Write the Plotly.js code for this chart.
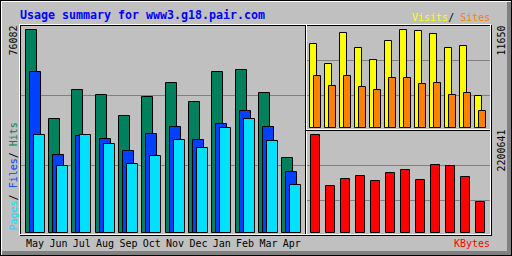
<!DOCTYPE html>
<html><head><meta charset="utf-8">
<script src="https://cdn.plot.ly/plotly-3.0.1.min.js"></script>
<style>html,body{margin:0;padding:0;background:#C0C0C0;overflow:hidden}#chart{width:512px;height:256px}</style>
</head><body><div id="chart"></div>
<script>
// ---- data ----
const months = ["May","Jun","Jul","Aug","Sep","Oct","Nov","Dec","Jan","Feb","Mar","Apr"];
const hits   = [76082,42600,53500,51600,43700,50900,56100,49000,60200,61000,52500,28000];
const files  = [60300,29100,36200,35200,30600,37100,39700,34700,40700,45600,39700,22750];
const pages  = [36700,25000,36700,33350,25850,28750,34750,31750,39350,42600,34350,17900];
const visits = [9950,7570,11260,9480,8050,10310,11650,11500,11140,9480,9710,3770];
const sites  = [6150,4960,6150,4840,4480,5910,5910,5200,5310,3890,4130,1990];
const kbytes = [2200641,1055400,1212600,1280000,1167700,1347300,1414700,1190100,1527000,1504500,1257500,696100];

// ---- pixel helpers ----
const W = 512, H = 256;
const fx = p => p / W;
const fy = p => 1 - p / H;
const idx = months.map((m, i) => i);
const xr = (a, b, c0, u) => [(a - c0) / u, (b - c0) / u];
const yr = (bot, top, base, per) => [(base - bot) * per, (base - top) * per];

const mainU = 70 / 3, mainC = 35.1;
const sideU = 15, sideC = 315.1;
const maxMain = Math.max(...hits, ...files, ...pages);
const maxVS = Math.max(...visits, ...sites);
const maxK = Math.max(...kbytes);
const perMain = maxMain / 203, perVS = maxVS / 98, perK = maxK / 98;

const C = {hits:'#00805C', files:'#0040FF', pages:'#00E0FF', visits:'#FFFF00', sites:'#FF8000', kb:'#FF0000'};

function bar(y, xa, ya, color, offPx, wPx, unit) {
  return {type:'bar', x: idx, y: y, xaxis: xa, yaxis: ya,
    offset: (offPx - wPx / 2) / unit, width: wPx / unit,
    marker: {color: color, line: {color: '#000000', width: 1}},
    hoverinfo: 'skip', showlegend: false};
}

const traces = [
  bar(hits,  'x', 'y', C.hits,  -4, 11, mainU),
  bar(files, 'x', 'y', C.files,  0, 11, mainU),
  bar(pages, 'x', 'y', C.pages,  4, 11, mainU),
  bar(visits,'x2','y2', C.visits,-2, 7, sideU),
  bar(sites, 'x2','y2', C.sites,  2, 7, sideU),
  bar(kbytes,'x3','y3', C.kb,     0, 9, sideU)
];

// ---- decoration (pixel rectangles) ----
const shapes = [];
function R(x0, y0, x1, y1, color, layer) {
  shapes.push({type:'rect', xref:'paper', yref:'paper', x0: fx(x0), x1: fx(x1), y0: fy(y1), y1: fy(y0),
    fillcolor: color, line: {width: 0}, layer: layer || 'above'});
}
const BLK = '#000000', WHT = '#FFFFFF', DK = '#808080';
// grid lines
R(21, 95, 305, 96, DK, 'below'); R(21, 165, 305, 166, DK, 'below');
R(307, 60, 490, 61, DK, 'below'); R(307, 95, 490, 96, DK, 'below');
R(307, 165, 490, 166, DK, 'below'); R(307, 200, 490, 201, DK, 'below');
// outer bevel
R(1, 1, 511, 2, WHT); R(1, 1, 2, 255, WHT);
R(507, 2, 511, 255, DK); R(2, 251, 511, 255, DK);
R(0, 0, 512, 1, BLK); R(0, 255, 512, 256, BLK); R(0, 0, 1, 256, BLK); R(511, 0, 512, 256, BLK);
// graph area groove
R(20, 25, 492, 26, BLK); R(20, 25, 21, 236, BLK); R(20, 235, 492, 236, BLK); R(491, 25, 492, 236, BLK);
R(19, 24, 491, 25, WHT); R(19, 24, 20, 235, WHT); R(19, 234, 491, 235, WHT); R(490, 24, 491, 235, WHT);
// section dividers
R(305, 25, 306, 234, BLK); R(306, 25, 307, 234, WHT);
R(306, 129, 490, 130, WHT); R(306, 130, 490, 131, BLK);

// ---- texts ----
const MONO = 'DejaVu Sans Mono';
function T(text, x, y, xanchor, color, size, angle) {
  return {text: text, xref:'paper', yref:'paper', x: fx(x), y: fy(y), xanchor: xanchor, yanchor:'middle',
    showarrow:false, borderpad:0, borderwidth:0, textangle: angle || 0,
    font: {family: MONO, size: size || 10, color: color || '#000000'}};
}
const annotations = [
  T('<b>Usage summary for www3.g18.pair.com</b>', 20, 15, 'left', '#0000FF', 11.63),
  T('<span style="color:' + C.visits + '">Visits</span>/ <span style="color:' + C.sites + '">Sites</span>', 490, 17, 'right'),
  T('<span style="color:' + C.kb + '">KBytes</span>', 490, 243.5, 'right'),
  T('<span style="color:' + C.pages + '">Pages</span>/ <span style="color:' + C.files + '">Files</span>/ <span style="color:' + C.hits + '">Hits</span>', 12.5, 177, 'center', '#000000', 10, -90),
  T(String(maxMain), 12.5, 41, 'center', '#000000', 10, -90),
  T(String(maxVS), 500.5, 41, 'center', '#000000', 10, -90),
  T(String(maxK), 500.5, 151, 'center', '#000000', 10, -90)
];

const hidden = {showgrid:false, zeroline:false, showline:false, showticklabels:false, ticks:'', fixedrange:true};
const layout = {
  width: W, height: H, margin: {l:0, r:0, t:0, b:0, pad:0},
  paper_bgcolor: '#C0C0C0', plot_bgcolor: 'rgba(0,0,0,0)',
  barmode: 'overlay', bargap: 0, bargroupgap: 0, showlegend: false,
  xaxis: Object.assign({}, hidden, {domain: [fx(20), fx(305)], range: xr(20, 305, mainC, mainU), anchor:'y',
    showticklabels: true, tickmode:'array', tickvals: idx, ticktext: months,
    tickfont: {family: MONO, size: 10, color: '#000000'}, ticklabelstandoff: 3}),
  yaxis: Object.assign({}, hidden, {domain: [fy(233), fy(25)], range: yr(233, 25, 232.6, perMain), anchor:'x'}),
  xaxis2: Object.assign({}, hidden, {domain: [fx(305), fx(491)], range: xr(305, 491, sideC, sideU), anchor:'y2'}),
  yaxis2: Object.assign({}, hidden, {domain: [fy(129), fy(25)], range: yr(129, 25, 127.6, perVS), anchor:'x2'}),
  xaxis3: Object.assign({}, hidden, {domain: [fx(305), fx(491)], range: xr(305, 491, sideC, sideU), anchor:'y3'}),
  yaxis3: Object.assign({}, hidden, {domain: [fy(233), fy(131)], range: yr(233, 131, 232.6, perK), anchor:'x3'}),
  shapes: shapes, annotations: annotations
};
Plotly.newPlot('chart', traces, layout, {displayModeBar:false, responsive:false});
</script></body></html>
